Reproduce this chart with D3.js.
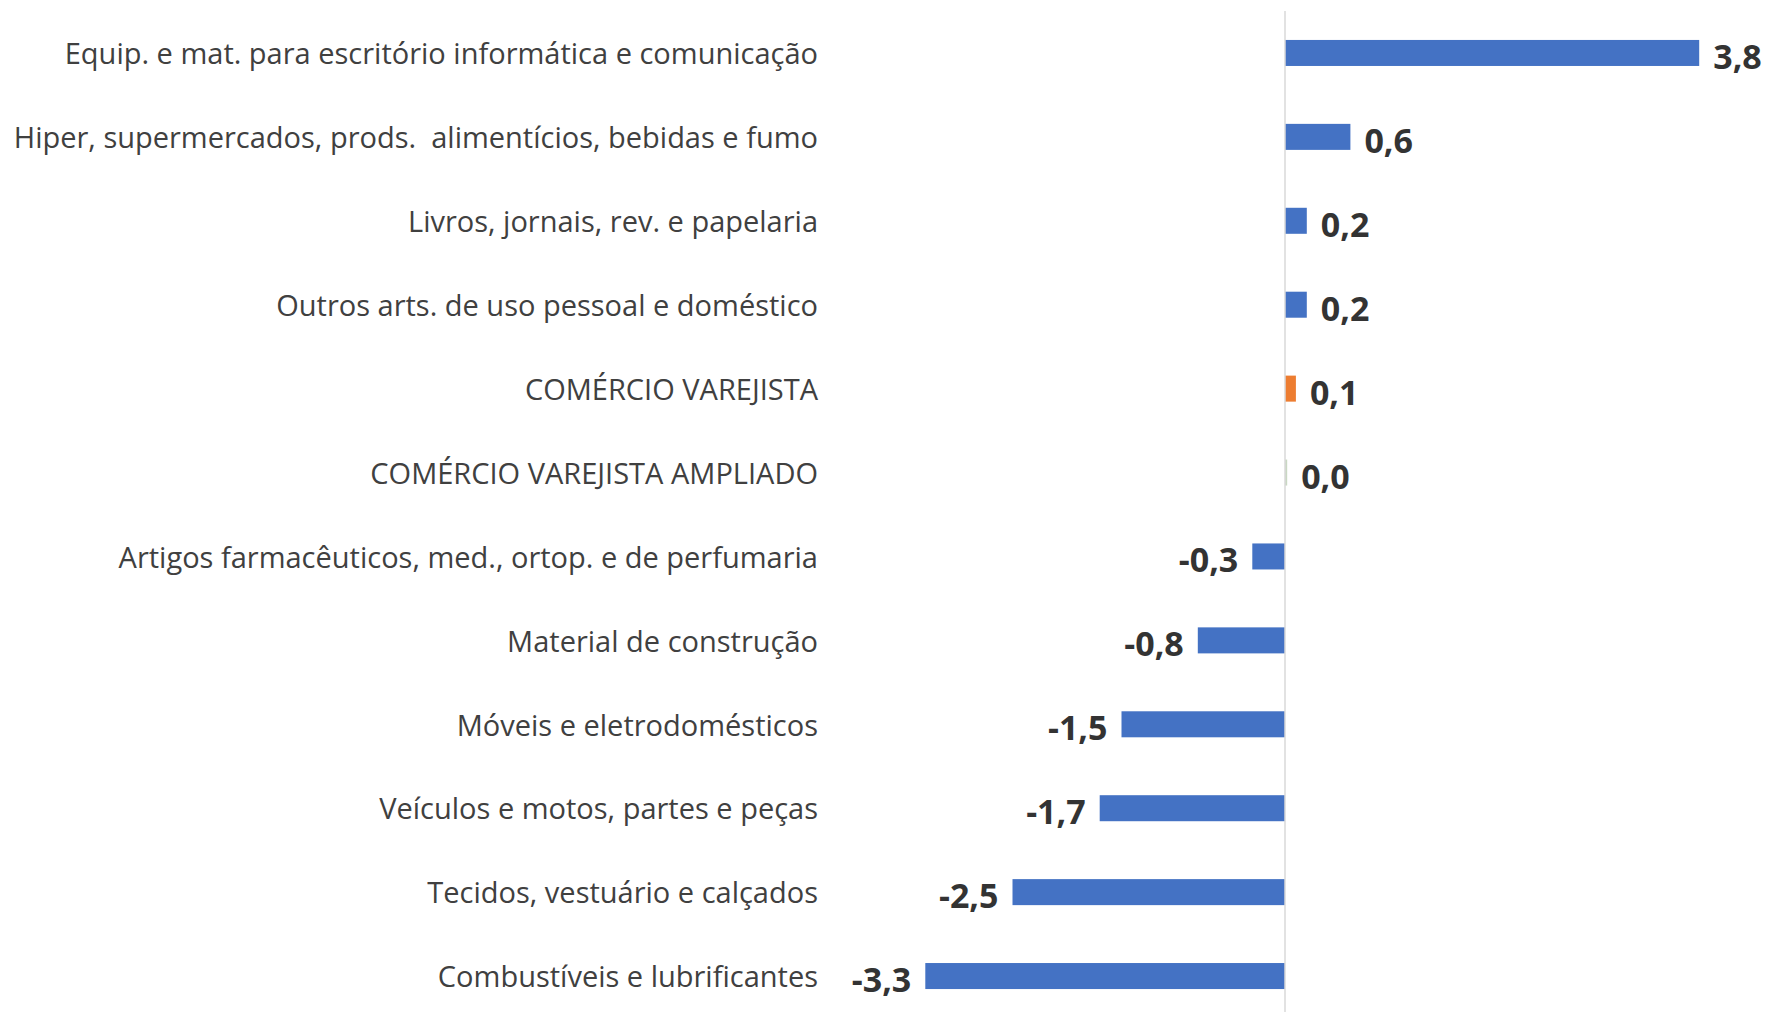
<!DOCTYPE html>
<html>
<head>
<meta charset="utf-8">
<script src="https://cdn.jsdelivr.net/npm/d3@7"></script>
<style>
  html, body { margin: 0; padding: 0; background: #fff; }
  svg { display: block; }
</style>
</head>
<body>
<div id="chart"></div>
<script>
// Categorias (de cima para baixo) e variações (%)
const categories = [
  'Equip. e mat. para escritório informática e comunicação',
  'Hiper, supermercados, prods.  alimentícios, bebidas e fumo',
  'Livros, jornais, rev. e papelaria',
  'Outros arts. de uso pessoal e doméstico',
  'COMÉRCIO VAREJISTA',
  'COMÉRCIO VAREJISTA AMPLIADO',
  'Artigos farmacêuticos, med., ortop. e de perfumaria',
  'Material de construção',
  'Móveis e eletrodomésticos',
  'Veículos e motos, partes e peças',
  'Tecidos, vestuário e calçados',
  'Combustíveis e lubrificantes'
];
const values = [3.8, 0.6, 0.2, 0.2, 0.1, 0.02, -0.3, -0.8, -1.5, -1.7, -2.5, -3.3];
// tipo de barra: setor, total varejo, total ampliado
const kinds = ['s', 's', 's', 's', 'v', 'a', 's', 's', 's', 's', 's', 's'];

const W = 1767, H = 1012;
const colors = { s: '#4472C4', v: '#ED7D31', a: '#C9D8C3' };

const data = categories.map((c, i) => ({ cat: c, value: values[i], kind: kinds[i] }));

const svg = d3.select('#chart')
  .append('svg')
  .attr('width', W)
  .attr('height', H);

// Escalas
const x = d3.scaleLinear()
  .domain([-3.5, 4])
  .range([903.5, 1721]);

const y = d3.scaleBand()
  .domain(categories)
  .range([11, 1018])
  .paddingInner(0.69)
  .paddingOuter(0.345);

// Rótulos das categorias
svg.append('g')
  .attr('transform', 'translate(818,2)')
  .call(d3.axisLeft(y).tickSize(0).tickPadding(0))
  .call(g => g.select('.domain').remove())
  .call(g => g.selectAll('text')
    .attr('fill', '#404040')
    .style('font-family', '"Open Sans", "Noto Sans", sans-serif')
    .style('font-size', '29px')
    .style('white-space', 'pre'));

// Barras
svg.selectAll('.bar')
  .data(data)
  .enter()
  .append('rect')
  .attr('class', 'bar')
  .attr('x', d => x(Math.min(0, d.value)))
  .attr('y', d => y(d.cat))
  .attr('width', d => Math.abs(x(d.value) - x(0)))
  .attr('height', y.bandwidth())
  .attr('fill', d => colors[d.kind]);

// Linha do eixo zero
svg.append('line')
  .attr('x1', x(0)).attr('x2', x(0))
  .attr('y1', 11).attr('y2', H)
  .attr('stroke', '#d9d9d9')
  .attr('stroke-width', 1.5);

// Rótulos de valor (vírgula decimal, hífen como sinal)
const ptBR = d3.formatLocale({ decimal: ',', thousands: '.', grouping: [3], currency: ['', ''], minus: '-' });
const fmt = v => ptBR.format('.1f')(Math.abs(v) < 0.05 ? 0 : v);
svg.selectAll('.val')
  .data(data)
  .enter()
  .append('text')
  .attr('class', 'val')
  .attr('x', d => d.value >= 0 ? x(d.value) + 14 : x(d.value) - 14)
  .attr('y', d => y(d.cat) + y.bandwidth() / 2 + 3)
  .attr('text-anchor', d => d.value >= 0 ? 'start' : 'end')
  .attr('dominant-baseline', 'central')
  .attr('fill', '#333')
  .style('font-family', '"Open Sans", "Noto Sans", sans-serif')
  .style('font-weight', 'bold')
  .style('font-size', '34px')
  .text(d => fmt(d.value));
</script>
</body>
</html>
